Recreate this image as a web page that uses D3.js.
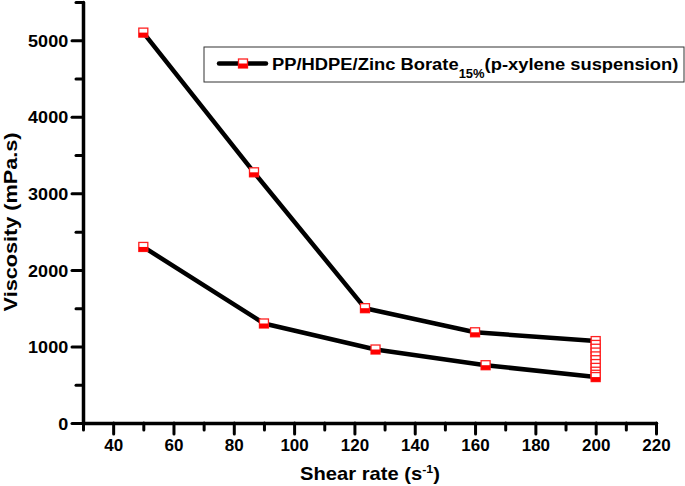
<!DOCTYPE html>
<html>
<head>
<meta charset="utf-8">
<script src="https://cdn.jsdelivr.net/npm/d3@7"></script>
<style>
  body { margin: 0; background: #fff; }
  text { font-family: "Liberation Sans", Arial, sans-serif; font-weight: bold; fill: #000; }
</style>
</head>
<body>
<div id="chart"></div>
<script>
// data: the curve goes up the shear rate and back down again
var shearRate = [50, 86.7, 123.5, 160, 200, 200, 200, 200, 200, 200, 200, 200, 200, 200, 200, 163.5, 127, 90, 50];
var viscosity = [5100, 3275, 1500, 1185, 1070, 1020, 970, 920, 870, 820, 770, 720, 670, 630, 600, 755, 960, 1300, 2300];
var xMajor = [40, 60, 80, 100, 120, 140, 160, 180, 200, 220];
var xMinor = [30, 50, 70, 90, 110, 130, 150, 170, 190, 210];
var yMajor = [0, 1000, 2000, 3000, 4000, 5000];
var yMinor = [500, 1500, 2500, 3500, 4500, 5500];
var seriesName = "PP/HDPE/Zinc Borate";
var seriesSub = "15%";
var seriesTail = "(p-xylene suspension)";

var width = 685;
var height = 486;

var svg = d3.select("#chart")
  .append("svg")
    .attr("width", width)
    .attr("height", height);

var x = d3.scaleLinear().domain([30, 220]).range([83, 656]);
var y = d3.scaleLinear().domain([0, 5500]).range([423, 2]);

var data = shearRate.map(function (d, i) { return { x: d, y: viscosity[i] }; });

// minor ticks first, no labels
svg.append("g")
  .attr("transform", "translate(0,423)")
  .call(d3.axisBottom(x).tickValues(xMinor).tickSize(7).tickFormat(""))
  .call(g => g.select(".domain").remove());
svg.append("g")
  .attr("transform", "translate(83,0)")
  .call(d3.axisLeft(y).tickValues(yMinor).tickSize(7).tickFormat(""))
  .call(g => g.select(".domain").remove());

// major ticks with labels
var xAxis = svg.append("g")
  .attr("transform", "translate(0,423)")
  .call(d3.axisBottom(x).tickValues(xMajor).tickSize(11).tickPadding(5).tickFormat(d3.format("d")).tickSizeOuter(0));
var yAxis = svg.append("g")
  .attr("transform", "translate(83,0)")
  .call(d3.axisLeft(y).tickValues(yMajor).tickSize(11).tickPadding(3).tickFormat(d3.format("d")).tickSizeOuter(0));

svg.selectAll(".tick line").attr("stroke", "#000").attr("stroke-width", 3).attr("stroke-linecap", "round");
svg.selectAll(".domain").attr("stroke", "#000").attr("stroke-width", 3.5).attr("stroke-linecap", "round");
svg.selectAll(".tick text")
  .style("font-family", "'Liberation Sans', Arial, sans-serif")
  .style("font-weight", "bold")
  .style("font-size", "17px")
  .attr("fill", "#000");
yAxis.selectAll(".tick text").attr("dy", "0.36em").attr("transform", "scale(1.06,1)");

// axis titles
var xTitle = svg.append("text")
  .attr("transform", "translate(370,480) scale(1.12,1)")
  .attr("text-anchor", "middle")
  .style("font-size", "18px");
xTitle.append("tspan").text("Shear rate (s");
xTitle.append("tspan").attr("dy", -7).style("font-size", "11px").text("-1");
xTitle.append("tspan").attr("dy", 7).text(")");

svg.append("text")
  .attr("transform", "translate(17,222) rotate(-90) scale(1.14,1)")
  .attr("text-anchor", "middle")
  .style("font-size", "19px")
  .text("Viscosity (mPa.s)");

// the line
var line = d3.line().x(d => x(d.x)).y(d => y(d.y));
svg.append("path")
  .datum(data)
  .attr("d", line)
  .attr("fill", "none")
  .attr("stroke", "#000")
  .attr("stroke-width", 4.5)
  .attr("stroke-linejoin", "round");

// half filled square markers
function marker(g) {
  g.append("rect")
    .attr("x", -4.5).attr("y", -4.5)
    .attr("width", 9).attr("height", 9)
    .attr("fill", "#fff")
    .attr("stroke", "#ff2020")
    .attr("stroke-width", 1.3);
  g.append("rect")
    .attr("x", -4.5).attr("y", 0)
    .attr("width", 9).attr("height", 4.5)
    .attr("fill", "#ff0000");
}

svg.selectAll(".pt")
  .data(data)
  .enter()
  .append("g")
    .attr("class", "pt")
    .attr("transform", d => "translate(" + x(d.x) + "," + y(d.y) + ")")
    .each(function () { marker(d3.select(this)); });

// legend
svg.append("rect")
  .attr("x", 204).attr("y", 47)
  .attr("width", 480).attr("height", 35)
  .attr("fill", "#fff")
  .attr("stroke", "#333")
  .attr("stroke-width", 1);
svg.append("line")
  .attr("x1", 219).attr("x2", 266)
  .attr("y1", 63.5).attr("y2", 63.5)
  .attr("stroke", "#000")
  .attr("stroke-width", 4.5)
  .attr("stroke-linecap", "round");
svg.append("g")
  .attr("transform", "translate(243,63.5)")
  .call(marker);

var leg = svg.append("text")
  .attr("transform", "translate(272,69.5) scale(1.08,1)")
  .style("font-size", "17px");
leg.append("tspan").text(seriesName);
leg.append("tspan").attr("dy", 8).style("font-size", "12px").text(seriesSub);
leg.append("tspan").attr("dy", -8).text(seriesTail);
</script>
</body>
</html>
